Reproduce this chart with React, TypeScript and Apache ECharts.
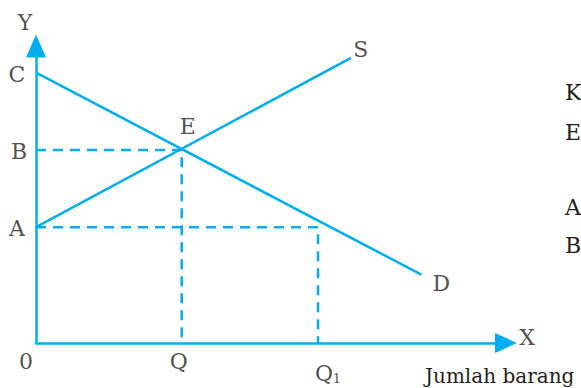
import React, { useEffect, useRef } from "react";
import * as echarts from "echarts";

// Key levels (value units on 0..100 axes)
const priceLevels = { C: 91, B: 65, A: 39 };
const qtyLevels = { Q: 31, Q1: 60 };
const demandLine: [number, number][] = [[0, 91], [82, 23]];
const supplyLine: [number, number][] = [[0, 39], [67, 96]];
const equilibrium: [number, number] = [31, 65];
const dashB: [number, number][] = [[0, 65], [31, 65], [31, 0]];
const dashA: [number, number][] = [[0, 39], [60, 39], [60, 0]];
const sideNotes = ["K", "E", "A", "B"];
const xTitle = "Jumlah barang";

const BLUE = "#00AEEF";
const INK = "#231F20";
const FONT = "DejaVu Serif";

export default function App() {
  const ref = useRef<HTMLDivElement>(null);
  useEffect(() => {
    document.body.style.margin = "0";
    const chart = echarts.init(ref.current!, null, { renderer: "svg" });
    const lbl = (name: string, value: [number, number], offset: [number, number], fontSize = 22) => ({
      name,
      value,
      label: { offset, fontSize },
    });
    const labels = [
      lbl("Y", [0, 100], [-11, -24]),
      lbl("C", [0, priceLevels.C], [-19, 2]),
      lbl("B", [0, priceLevels.B], [-17, 2]),
      lbl("A", [0, priceLevels.A], [-19, 1]),
      lbl("0", [0, 0], [-10, 18]),
      lbl("Q", [qtyLevels.Q, 0], [-3, 18]),
      lbl("Q", [qtyLevels.Q1, 0], [6, 30]),
      lbl("1", [qtyLevels.Q1, 0], [19, 35], 13),
      lbl("E", equilibrium, [6, -23]),
      lbl("S", supplyLine[1], [10, -8]),
      lbl("D", demandLine[1], [20, 9]),
      lbl("X", [100, 0], [21, -6]),
    ];
    const solid = { color: BLUE, width: 2.5 };
    const dashed = { color: BLUE, width: 2.5, type: [10, 7] as any };
    chart.setOption({
      animation: false,
      grid: { left: 36, right: 75, top: 46, bottom: 45 },
      xAxis: {
        type: "value",
        min: 0,
        max: 100,
        axisLine: { show: true, lineStyle: { color: BLUE, width: 2.5 }, symbol: ["none", "triangle"], symbolSize: [20, 22] },
        axisTick: { show: false },
        axisLabel: { show: false },
        splitLine: { show: false },
      },
      yAxis: {
        type: "value",
        min: 0,
        max: 100,
        axisLine: { show: true, lineStyle: { color: BLUE, width: 2.5 }, symbol: ["none", "triangle"], symbolSize: [20, 23] },
        axisTick: { show: false },
        axisLabel: { show: false },
        splitLine: { show: false },
      },
      series: [
        { type: "line", data: dashB, showSymbol: false, lineStyle: dashed, clip: false, z: 1 },
        { type: "line", data: dashA, showSymbol: false, lineStyle: dashed, clip: false, z: 1 },
        { type: "line", data: demandLine, showSymbol: false, lineStyle: solid, clip: false, z: 2 },
        { type: "line", data: supplyLine, showSymbol: false, lineStyle: solid, clip: false, z: 2 },
        {
          type: "scatter",
          symbolSize: 0,
          data: labels,
          z: 5,
          label: {
            show: true,
            position: "inside",
            align: "center",
            verticalAlign: "middle",
            formatter: (p: any) => p.name,
            fontFamily: FONT,
            fontSize: 22,
            color: INK,
          },
        },
      ],
      graphic: [
        ...sideNotes.map((t, i) => ({
          type: "text",
          x: 565,
          y: [92, 132, 207, 245][i],
          style: { text: t, fontFamily: FONT, fontSize: 22, fill: INK, verticalAlign: "middle" },
        })),
        {
          type: "text",
          x: 425,
          y: 376,
          style: { text: xTitle, fontFamily: FONT, fontSize: 20, fill: INK, verticalAlign: "middle" },
        },
      ],
    });
    return () => chart.dispose();
  }, []);
  return <div ref={ref} style={{ width: 581, height: 388 }} />;
}
